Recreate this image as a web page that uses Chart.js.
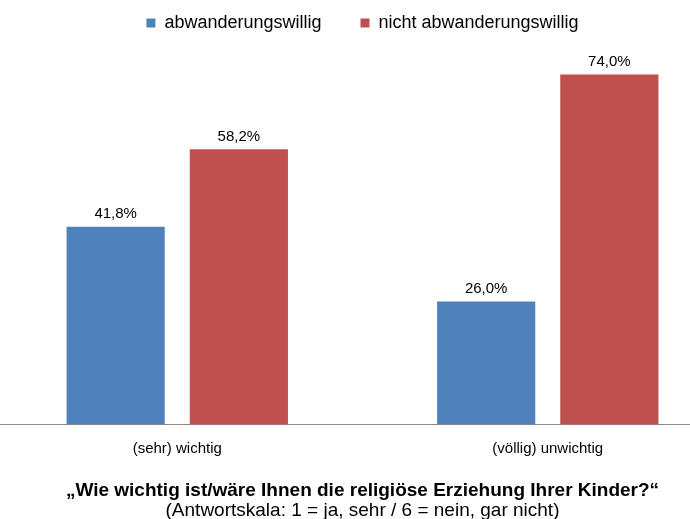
<!DOCTYPE html>
<html lang="de">
<head>
    <meta charset="UTF-8">
    <title>Religiöse Erziehung</title>
    <script src="https://cdn.jsdelivr.net/npm/chart.js"></script>
    <style>
        html, body { margin: 0; padding: 0; background: #fff; overflow: hidden; width: 690px; height: 519px; }
        /* canvas is a bit larger than the page: the original chart is cropped on the left/right/top */
        #wrap { position: relative; width: 741px; height: 545px; margin-left: -8px; margin-top: -25px; }
    </style>
</head>
<body>
    <div id="wrap"><canvas id="chart"></canvas></div>

    <script>
        // Chart data
        const categories = ["(sehr) wichtig", "(völlig) unwichtig"];
        const seriesNames = ["abwanderungswillig", "nicht abwanderungswillig"];
        const abwanderungswillig = [41.8, 26.0];
        const nichtAbwanderungswillig = [58.2, 74.0];
        const questionText = "\u201EWie wichtig ist/w\u00E4re Ihnen die religi\u00F6se Erziehung Ihrer Kinder?\u201C";
        const scaleText = "(Antwortskala: 1 = ja, sehr / 6 = nein, gar nicht)";

        const fontFamily = "'Liberation Sans', Arial, sans-serif";

        // fixed legend block height so the plot starts where the original does
        const legendHeight = {
            id: "legendHeight",
            beforeInit(chart) {
                const origFit = chart.legend.fit;
                chart.legend.fit = function () {
                    origFit.bind(chart.legend)();
                    this.height = 71;
                };
            }
        };

        // draws the value above each bar
        const valueLabels = {
            id: "valueLabels",
            afterDatasetsDraw(chart) {
                const ctx = chart.ctx;
                ctx.save();
                ctx.font = "15px " + fontFamily;
                ctx.fillStyle = "#000";
                ctx.textAlign = "center";
                ctx.textBaseline = "bottom";
                chart.data.datasets.forEach((ds, i) => {
                    chart.getDatasetMeta(i).data.forEach((bar, j) => {
                        const txt = ds.data[j].toFixed(1).replace(".", ",") + "%";
                        ctx.fillText(txt, bar.x, bar.y - 5);
                    });
                });
                ctx.restore();
            }
        };

        new Chart(document.getElementById("chart"), {
            type: "bar",
            data: {
                labels: categories,
                datasets: [
                    {
                        label: seriesNames[0],
                        data: abwanderungswillig,
                        backgroundColor: "#4F81BD",
                        categoryPercentage: 0.665,
                        barPercentage: 0.797
                    },
                    {
                        label: seriesNames[1],
                        data: nichtAbwanderungswillig,
                        backgroundColor: "#C0504D",
                        categoryPercentage: 0.665,
                        barPercentage: 0.797
                    }
                ]
            },
            options: {
                responsive: true,
                maintainAspectRatio: false,
                animation: false,
                plugins: {
                    legend: {
                        position: "top",
                        labels: {
                            font: { family: fontFamily, size: 18 },
                            color: "#000",
                            boxWidth: 9,
                            boxHeight: 9,
                            padding: 39
                        }
                    },
                    subtitle: {
                        display: true,
                        position: "bottom",
                        text: questionText,
                        color: "#000",
                        font: { family: fontFamily, size: 19, weight: "bold", lineHeight: 1 },
                        padding: { top: 7.5, bottom: 1 }
                    },
                    title: {
                        display: true,
                        position: "bottom",
                        text: scaleText,
                        color: "#000",
                        font: { family: fontFamily, size: 19, weight: "normal", lineHeight: 1 },
                        padding: { top: 0, bottom: 0 }
                    },
                    tooltip: { enabled: false }
                },
                scales: {
                    x: {
                        grid: { display: false, drawTicks: false },
                        border: { display: true, color: "#8C8C8C", width: 1 },
                        ticks: {
                            font: { family: fontFamily, size: 15 },
                            color: "#000",
                            padding: 15.5
                        }
                    },
                    y: {
                        display: false,
                        min: 0,
                        max: 80
                    }
                }
            },
            plugins: [legendHeight, valueLabels]
        });
    </script>
</body>
</html>
